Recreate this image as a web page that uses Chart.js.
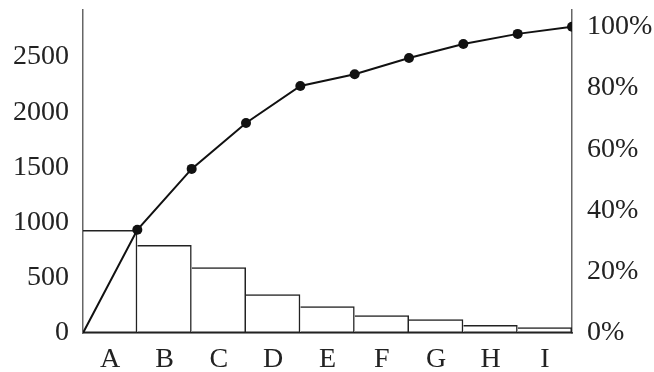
<!DOCTYPE html>
<html>
<head>
<meta charset="utf-8">
<script src="https://cdn.jsdelivr.net/npm/chart.js@4"></script>
<style>
html,body{margin:0;padding:0;background:#fff;}
#wrap{width:654px;height:372px;}
</style>
</head>
<body>
<div id="wrap"><canvas id="c" width="654" height="372"></canvas></div>
<script>
const categories = ['A','B','C','D','E','F','G','H','I'];
const barValues = [933, 797, 595, 350, 242, 160, 124, 72, 52];
const cumulativePercent = [0, 33.7, 53.6, 68.6, 80.7, 84.5, 89.8, 94.4, 97.7, 100];
const leftTicks = [0, 500, 1000, 1500, 2000, 2500];
const rightTicks = [0, 20, 40, 60, 80, 100];

const FONT = {family: '"Liberation Serif", "DejaVu Serif", serif', size: 28};

const linePoints = cumulativePercent.map((v, i) => ({x: i, y: v}));
const pointRadii = cumulativePercent.map((v, i) => i === 0 ? 0 : 5);

function noPad(s) { s.paddingTop = 0; s.paddingBottom = 0; }

new Chart(document.getElementById('c'), {
  data: {
    labels: categories,
    datasets: [
      {
        type: 'line',
        data: linePoints,
        xAxisID: 'xLine',
        yAxisID: 'yRight',
        borderColor: '#111',
        borderWidth: 2,
        pointRadius: pointRadii,
        pointBackgroundColor: '#111',
        pointBorderColor: '#111',
        pointBorderWidth: 0,
        tension: 0,
        order: 0
      },
      {
        type: 'bar',
        data: barValues,
        xAxisID: 'x',
        yAxisID: 'yLeft',
        backgroundColor: 'rgba(255,255,255,0)',
        borderColor: '#222',
        borderWidth: 1.5,
        borderSkipped: 'left',
        barPercentage: 1,
        categoryPercentage: 1,
        grouped: false,
        inflateAmount: 0,
        order: 1
      }
    ]
  },
  options: {
    responsive: false,
    animation: false,
    events: [],
    layout: {padding: {top: 10, left: 0, right: 0, bottom: 0}},
    plugins: {legend: {display: false}, tooltip: {enabled: false}},
    scales: {
      x: {
        type: 'category',
        position: 'bottom',
        offset: true,
        grid: {display: false, drawTicks: false, offset: true},
        border: {display: true, color: '#111', width: 1.5},
        ticks: {font: FONT, color: '#222', padding: 10, maxRotation: 0},
        afterFit: s => { s.height = 39; s.paddingLeft = 0; s.paddingRight = 0; }
      },
      xLine: {
        type: 'linear',
        position: 'bottom',
        display: false,
        min: 0,
        max: categories.length
      },
      yLeft: {
        type: 'linear',
        position: 'left',
        min: 0,
        max: 2925,
        grid: {display: false, drawTicks: false},
        border: {display: true, color: '#666', width: 1.5},
        ticks: {font: FONT, color: '#222', padding: 14, callback: v => String(v)},
        afterBuildTicks: s => { s.ticks = leftTicks.map(v => ({value: v})); },
        afterFit: s => { s.width = 83; noPad(s); }
      },
      yRight: {
        type: 'linear',
        position: 'right',
        min: 0,
        max: 105.5,
        grid: {display: false, drawTicks: false},
        border: {display: true, color: '#666', width: 1.5},
        ticks: {font: FONT, color: '#222', padding: 15, callback: v => v + '%'},
        afterBuildTicks: s => { s.ticks = rightTicks.map(v => ({value: v})); },
        afterFit: s => { s.width = 82; noPad(s); }
      }
    }
  }
});
</script>
</body>
</html>
